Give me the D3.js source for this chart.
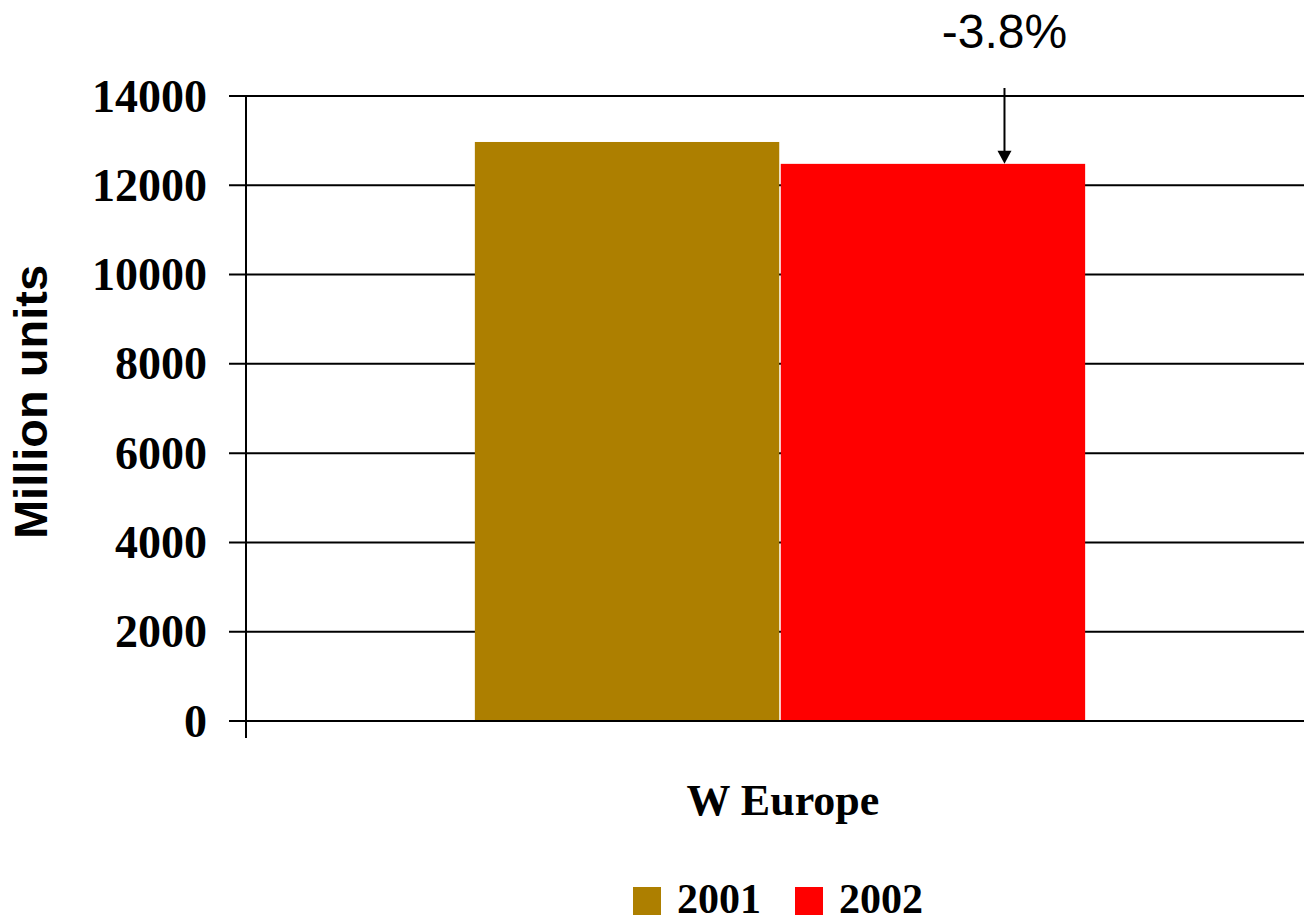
<!DOCTYPE html>
<html>
<head>
<meta charset="utf-8">
<script src="https://cdn.jsdelivr.net/npm/d3@7"></script>
<style>
  html, body { margin: 0; padding: 0; background: #fff; }
  svg { display: block; }
</style>
</head>
<body>
<svg id="chart" width="1304" height="921"></svg>
<script>
// Data
const categories = ["W Europe"];
const seriesNames = ["2001", "2002"];
const values2001 = [12970];
const values2002 = [12480];
const seriesColors = ["#AD7F00", "#FF0000"];
const yTicks = [0, 2000, 4000, 6000, 8000, 10000, 12000, 14000];
const changeLabel = "-3.8%";

const svg = d3.select("#chart");
const serif = "'Liberation Serif', 'Times New Roman', serif";
const sans = "'Liberation Sans', Arial, sans-serif";

const plot = { left: 246, right: 1314, top: 96, bottom: 721 };

const y = d3.scaleLinear().domain([0, 14000]).range([plot.bottom, plot.top]);
const x0 = d3.scaleBand().domain(categories).range([plot.left, plot.right])
  .paddingInner(0).paddingOuter(0.375);
const x1 = d3.scaleBand().domain(seriesNames).range([0, x0.bandwidth()])
  .paddingInner(0.005);

// Horizontal gridlines (with tick stubs left of the axis)
svg.append("g").selectAll("line").data(yTicks).join("line")
  .attr("x1", plot.left - 17).attr("x2", 1304)
  .attr("y1", d => y(d)).attr("y2", d => y(d))
  .attr("stroke", "#000").attr("stroke-width", 2);

// Y tick labels
svg.append("g").selectAll("text").data(yTicks).join("text")
  .attr("x", 207).attr("y", d => y(d))
  .attr("dy", "0.34em")
  .attr("text-anchor", "end")
  .attr("font-family", serif).attr("font-weight", "bold")
  .attr("font-size", 46)
  .text(d => d);

// Bars
const rows = categories.map((c, i) => ({ cat: c, vals: [values2001[i], values2002[i]] }));
const groups = svg.append("g").selectAll("g").data(rows).join("g")
  .attr("transform", d => `translate(${x0(d.cat)},0)`);
groups.selectAll("rect")
  .data(d => d.vals.map((v, j) => ({ name: seriesNames[j], v, color: seriesColors[j] })))
  .join("rect")
  .attr("x", d => x1(d.name))
  .attr("width", x1.bandwidth())
  .attr("y", d => y(d.v))
  .attr("height", d => plot.bottom - y(d.v))
  .attr("fill", d => d.color);

// Baseline over bar bottoms
svg.append("line")
  .attr("x1", plot.left - 17).attr("x2", 1304)
  .attr("y1", y(0)).attr("y2", y(0))
  .attr("stroke", "#000").attr("stroke-width", 2);

// Y axis line
svg.append("line")
  .attr("x1", plot.left).attr("x2", plot.left)
  .attr("y1", plot.top).attr("y2", plot.bottom + 17)
  .attr("stroke", "#000").attr("stroke-width", 2);

// Category label
svg.append("text")
  .attr("x", x0(categories[0]) + x0.bandwidth() / 2 + 3)
  .attr("y", 815)
  .attr("text-anchor", "middle")
  .attr("font-family", serif).attr("font-weight", "bold")
  .attr("font-size", 44)
  .text(categories[0]);

// Y axis title
svg.append("text")
  .attr("transform", "translate(47,402) rotate(-90)")
  .attr("text-anchor", "middle")
  .attr("font-family", sans).attr("font-weight", "bold")
  .attr("font-size", 47)
  .text("Million units");

// Change annotation with arrow
const arrowX = x0(categories[0]) + x1("2002") + x1.bandwidth() * 0.735;
const arrowEnd = y(values2002[0]);
svg.append("line")
  .attr("x1", arrowX).attr("x2", arrowX)
  .attr("y1", 88).attr("y2", arrowEnd - 10)
  .attr("stroke", "#000").attr("stroke-width", 2);
svg.append("path")
  .attr("d", `M${arrowX - 7},${arrowEnd - 13} L${arrowX + 7},${arrowEnd - 13} L${arrowX},${arrowEnd} Z`)
  .attr("fill", "#000");
svg.append("text")
  .attr("x", arrowX).attr("y", 48)
  .attr("text-anchor", "middle")
  .attr("font-family", sans)
  .attr("font-size", 48)
  .text(changeLabel);

// Legend
const legendItems = [
  { name: seriesNames[0], color: seriesColors[0], x: 633 },
  { name: seriesNames[1], color: seriesColors[1], x: 795 }
];
const lg = svg.append("g").selectAll("g").data(legendItems).join("g");
lg.append("rect")
  .attr("x", d => d.x).attr("y", 887)
  .attr("width", 28).attr("height", 28)
  .attr("fill", d => d.color);
lg.append("text")
  .attr("x", d => d.x + 44).attr("y", 913)
  .attr("font-family", serif).attr("font-weight", "bold")
  .attr("font-size", 42)
  .text(d => d.name);
</script>
</body>
</html>
